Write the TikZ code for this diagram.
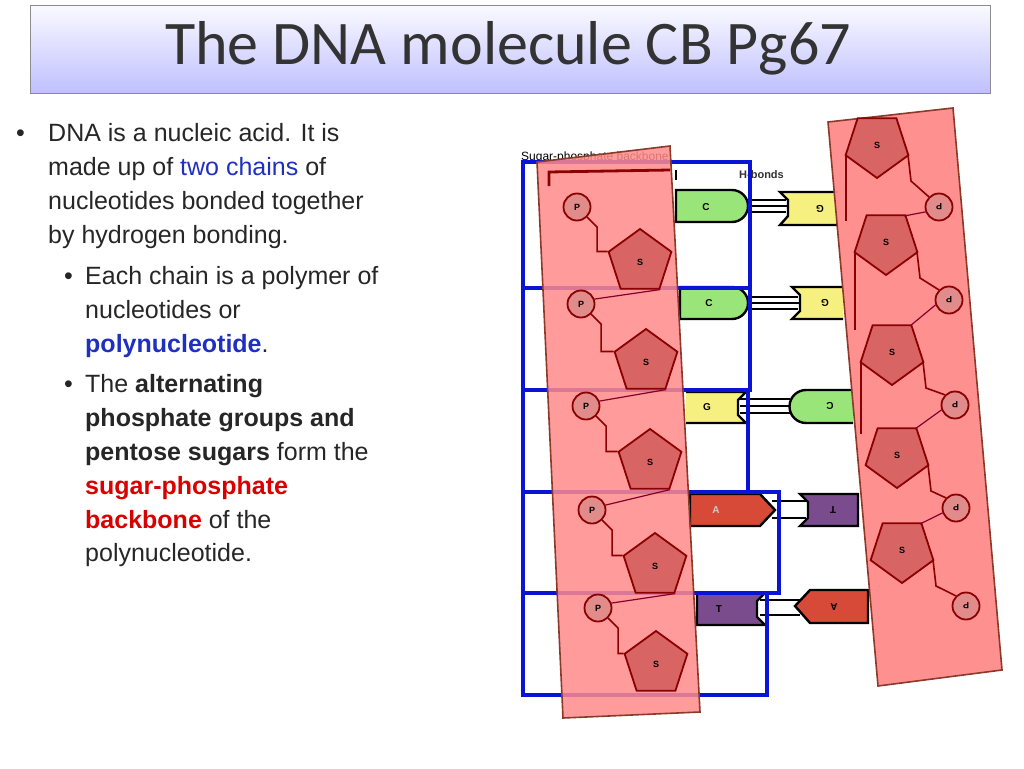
\documentclass[tikz,border=0pt]{standalone}
\usepackage{fontspec}
\setmainfont{Liberation Sans}
\newfontfamily\titlefont{Carlito}
\usetikzlibrary{shapes.geometric,calc}
\definecolor{strip}{HTML}{FF8A8A}
\definecolor{edge}{HTML}{8B3A2A}
\definecolor{sug}{HTML}{D86464}
\definecolor{dred}{HTML}{8B0000}
\definecolor{gC}{HTML}{99E57A}
\definecolor{yG}{HTML}{F5F080}
\definecolor{rA}{HTML}{D84A38}
\definecolor{pT}{HTML}{7A4C8E}
\definecolor{bbox}{HTML}{0A14D6}
\definecolor{txtblue}{HTML}{1F2FC0}
\begin{document}
\begin{tikzpicture}[x=1pt,y=-1pt,
  bl/.style={draw=bbox,line width=3.2pt},
  phos/.style={circle,draw=dred,line width=1.8pt,fill=sug!75!white,minimum size=27pt,inner sep=0pt,font=\fontsize{9}{9}\selectfont\bfseries},
  sugar/.style={regular polygon,regular polygon sides=5,draw=dred,line width=1.8pt,fill=sug,minimum size=66pt,inner sep=0pt,font=\fontsize{9}{9}\selectfont\bfseries},
  bond/.style={draw=dred,line width=1.6pt},
  base/.style={draw=black,line width=2.4pt},
  hb/.style={draw=black,line width=1.2pt},
  btxt/.style={font=\fontsize{10}{10}\selectfont\bfseries},
  bul/.style={anchor=base west,inner sep=0pt,font=\fontsize{25}{28}\selectfont,text=black!85}]
\useasboundingbox (0,0) rectangle (1024,768);
% title
\node[draw=black!45,top color=white!90!blue!20,bottom color=blue!25!white,minimum width=960pt,minimum height=88pt,anchor=north west,inner sep=0pt] (title) at (30,5) {};
\node[font=\titlefont\fontsize{62}{66}\selectfont,text=black!80] (tt) at (508,48) {The DNA molecule CB Pg67};
% bullets
\node[bul] (b0) at (16,141) {•};
\node[bul] (l1) at (48,141) {DNA is a nucleic acid. It is};
\node[bul] (l2) at (48,175) {made up of \textcolor{txtblue}{two chains} of};
\node[bul] (l3) at (48,209) {nucleotides bonded together};
\node[bul] (l4) at (48,243) {by hydrogen bonding.};
\node[bul] (b1) at (64,284) {•};
\node[bul] (l5) at (85,284) {Each chain is a polymer of};
\node[bul] (l6) at (85,318) {nucleotides or};
\node[bul] (l7) at (85,352) {\textbf{\textcolor{txtblue}{polynucleotide}}.};
\node[bul] (b2) at (64,392) {•};
\node[bul] (l8) at (85,392) {The \textbf{alternating}};
\node[bul] (l9) at (85,426) {\textbf{phosphate groups and}};
\node[bul] (l10) at (85,460) {\textbf{pentose sugars} form the};
\node[bul] (l11) at (85,494) {\textbf{\textcolor{red!85!black}{sugar-phosphate}}};
\node[bul] (l12) at (85,528) {\textbf{\textcolor{red!85!black}{backbone}} of the};
\node[bul] (l13) at (85,561) {polynucleotide.};
% labels
\node[anchor=base west,font=\fontsize{12}{12}\selectfont,inner sep=0pt] (spb) at (521,160) {Sugar-phosphate backbone};
\node[anchor=base west,font=\fontsize{11}{11}\selectfont\bfseries,inner sep=0pt,text=black!80] (hbl) at (739,178) {H-bonds};
% bases row1
\draw[base,fill=gC] (676,190) -- (732,190) arc[start angle=-90,end angle=90,radius=16] -- (676,222) -- cycle;
\draw[base,fill=yG] (838,192) -- (780,192) -- (788,200) -- (788,216) -- (780,225) -- (838,225);
\draw[hb] (750,200) -- (786,200) (750,206) -- (788,206) (750,212) -- (786,212);
% row2
\draw[base,fill=gC] (680,287) -- (732,287) arc[start angle=-90,end angle=90,radius=16] -- (680,319) -- cycle;
\draw[base,fill=yG] (843,287) -- (792,287) -- (800,295) -- (800,311) -- (792,319) -- (843,319);
\draw[hb] (750,297) -- (798,297) (750,303) -- (800,303) (750,309) -- (798,309);
% row3
\draw[base,fill=yG] (686,392) -- (746,392) -- (738,400) -- (738,415) -- (746,423) -- (686,423);
\draw[base,fill=gC] (853,390) -- (806,390) arc[start angle=-90,end angle=-270,radius=16.5] -- (853,423);
\draw[hb] (740,399) -- (790,399) (740,406) -- (789,406) (740,413) -- (790,413);
% row4
\draw[base,fill=rA] (690,494) -- (760,494) -- (775,510) -- (760,526) -- (690,526) -- cycle;
\draw[base,fill=pT] (858,494) -- (800,494) -- (808,502) -- (808,518) -- (800,526) -- (858,526) -- cycle;
\draw[hb] (772,501) -- (806,501) (772,518) -- (806,518);
\node[btxt,text=white!80!black] (A1) at (716,510) {A};
\node[btxt,rotate=180] (T1) at (833,510) {T};
% row5
\draw[base,fill=pT] (697,593) -- (765,593) -- (757,601) -- (757,617) -- (765,625) -- (697,625) -- cycle;
\draw[base,fill=rA] (868,590) -- (810,590) -- (795,606) -- (810,623) -- (868,623) -- cycle;
\draw[hb] (760,600) -- (800,600) (760,615) -- (800,615);
\node[btxt] (T2) at (719,609) {T};
\node[btxt,rotate=180] (A2) at (834,607) {A};
\node[btxt] (C1) at (706,207) {C}; \node[btxt,rotate=180] (G1) at (820,209) {G};
\node[btxt] (C2) at (709,303) {C}; \node[btxt,rotate=180] (G2) at (825,303) {G};
\node[btxt] (G3) at (707,407) {G}; \node[btxt,rotate=180] (C3) at (830,406) {C};
% blue boxes
\draw[bl] (523,162) rectangle (750,288);
\draw[bl] (523,288) rectangle (750,390);
\draw[bl] (523,390) rectangle (748,492);
\draw[bl] (523,492) rectangle (779,593);
\draw[bl] (523,593) rectangle (767,695);
% strips
\filldraw[fill=strip,fill opacity=0.85,draw=edge,line width=1.6pt] (537,162) -- (670,146) -- (700,712) -- (563,718) -- cycle;
\filldraw[fill=strip,fill opacity=0.95,draw=edge,line width=1.6pt] (828,122) -- (953,108) -- (1002,670) -- (878,686) -- cycle;
% bracket
\draw[dred,line width=2.8pt] (549,186) -- (549,172) -- (670,170);
\draw[black,line width=2.4pt] (676,170) -- (676,180);
% left strand
\foreach \i/\px/\py/\sx/\sy in {1/577/207/640/262, 2/581/304/646/362, 3/586/406/650/462, 4/592/510/655/566, 5/598/608/656/664}{
  \node[phos] (P\i) at (\px,\py) {P};
  \node[sugar] (S\i) at (\sx,\sy) {S};
  \draw[bond] (P\i.-45) -- ++(10,10) |- (S\i.corner 2);
}
\foreach \a/\b in {S1/P2,S2/P3,S3/P4,S4/P5}{\draw[draw=purple!70!black,line width=1.2pt] (\a.corner 4) -- (\b.20);}
% right strand
\foreach \i/\sx/\sy/\dx/\dy in {1/877/145/939/207, 2/886/242/949/300, 3/892/352/955/405, 4/897/455/956/508, 5/902/550/966/606}{
  \node[sugar,rotate=180] (R\i) at (\sx,\sy) {\rotatebox{180}{S}};
  \node[phos] (D\i) at (\dx,\dy) {\rotatebox{180}{P}};
  \draw[bond] ($(R\i)+(31,10)$) -- ++(3,26) -- (D\i.135);
}
\foreach \a/\b in {D1/R2,D2/R3,D3/R4,D4/R5}{\draw[draw=purple!70!black,line width=1.2pt] (\a.200) -- ($(\b)+(18,-26)$);}
\draw[bond] ($(R1)+(-31,10)$) -- ++(0,66);
\draw[bond] ($(R2)+(-31,10)$) -- ++(0,78);
\draw[bond] ($(R3)+(-31,10)$) -- ++(0,72);
\end{tikzpicture}
\end{document}
